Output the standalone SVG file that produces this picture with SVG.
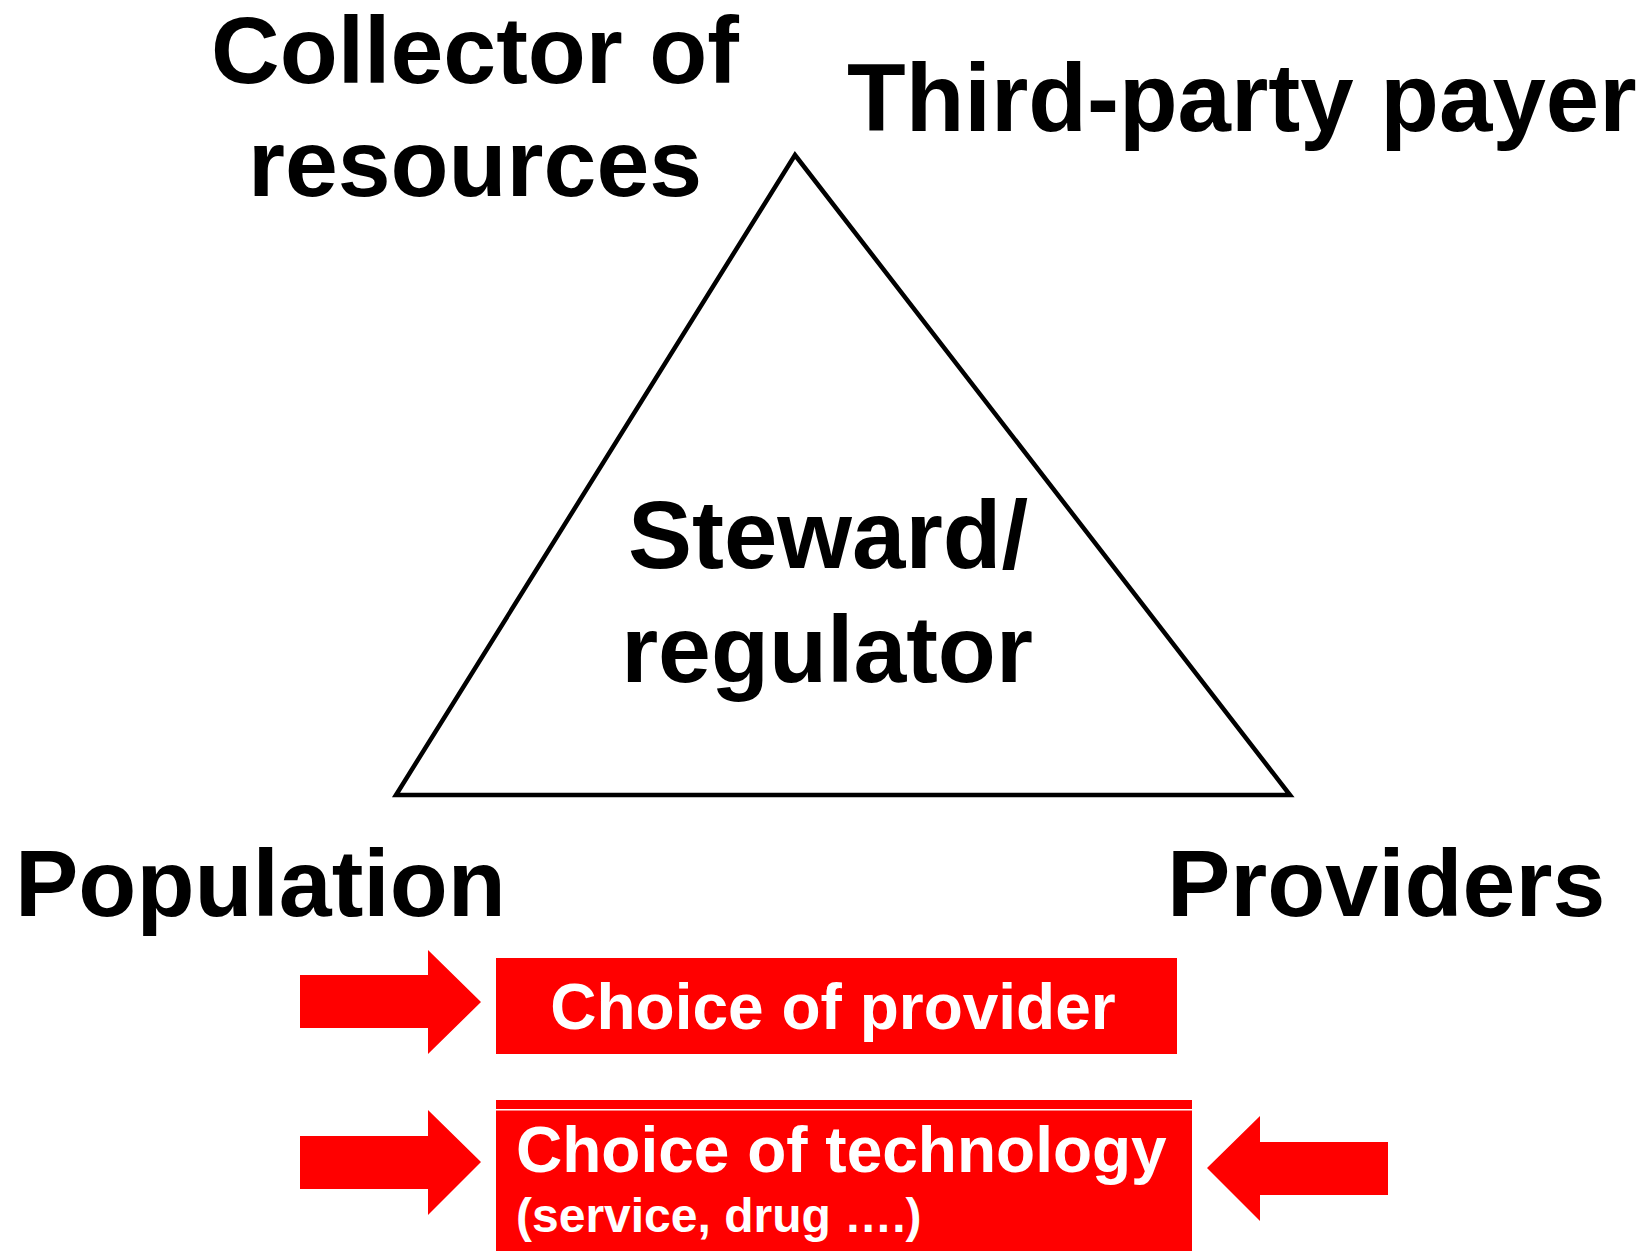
<svg xmlns="http://www.w3.org/2000/svg" width="1646" height="1251" viewBox="0 0 1646 1251">
<style>
.lbl{font-family:"Liberation Sans",Arial,sans-serif;font-weight:bold;font-size:95px;fill:#000}
.wt{font-family:"Liberation Sans",Arial,sans-serif;font-weight:bold;fill:#fff}
.red{fill:#ff0000}
</style>
<rect width="1646" height="1251" fill="#fff"/>
<g id="triangle">
<polygon points="795,155 396,795 1290,795" fill="none" stroke="#000" stroke-width="4.5"/>
<text class="lbl" x="828" y="568" text-anchor="middle" style="font-size:96px">Steward/</text>
<text class="lbl" x="827" y="682" text-anchor="middle">regulator</text>
</g>
<g id="collector">
<text class="lbl" x="475" y="83" text-anchor="middle">Collector of</text>
<text class="lbl" x="475" y="196" text-anchor="middle">resources</text>
</g>
<g id="payer">
<text class="lbl" x="847" y="131" style="font-size:96px">Third-party payer</text>
</g>
<g id="population">
<text class="lbl" x="15" y="916">Population</text>
</g>
<g id="providers">
<text class="lbl" x="1167" y="916">Providers</text>
</g>
<g id="choice-provider">
<rect class="red" x="496" y="958" width="681" height="96"/>
<text class="wt" x="833" y="1029" font-size="64" text-anchor="middle">Choice of provider</text>
</g>
<g id="choice-technology">
<rect class="red" x="496" y="1100" width="696" height="151"/>
<rect x="496" y="1109" width="696" height="1.5" fill="#fff"/>
<text class="wt" x="516" y="1172" font-size="64">Choice of technology</text>
<text class="wt" x="516" y="1232" font-size="48">(service, drug ….)</text>
</g>
<g id="connectors">
<polygon class="red" points="300,975 428,975 428,950 481,1002 428,1054 428,1028 300,1028"/>
<polygon class="red" points="300,1136 428,1136 428,1110 481,1162 428,1215 428,1189 300,1189"/>
<polygon class="red" points="1388,1142 1260,1142 1260,1116 1207,1168 1260,1221 1260,1195 1388,1195"/>
</g>
</svg>
